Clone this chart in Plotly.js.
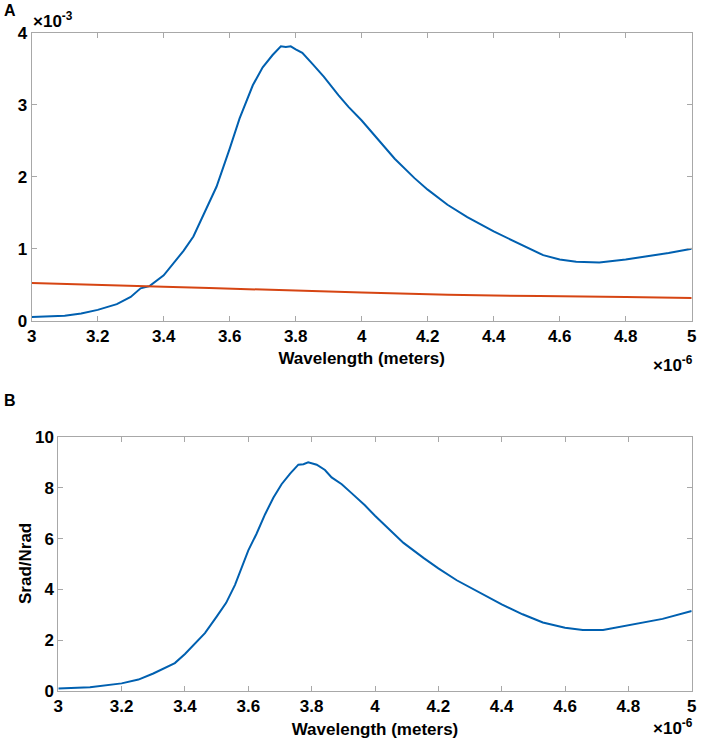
<!DOCTYPE html>
<html><head><meta charset="utf-8">
<script src="https://cdn.plot.ly/plotly-3.0.1.min.js"></script>
<style>html,body{margin:0;padding:0;background:#fff}#chart{width:701px;height:740px}</style>
</head><body><div id="chart"></div>
<script>
// Panel A: wavelength (×1e-6 m) and signal (×1e-3)
const wavelengthA = [3.0,3.05,3.1,3.15,3.2,3.258,3.3,3.33,3.357,3.4,3.43,3.46,3.49,3.53,3.56,3.6,3.63,3.67,3.70,3.73,3.755,3.77,3.785,3.80,3.82,3.85,3.885,3.93,3.96,4.0,4.05,4.10,4.16,4.2,4.26,4.32,4.4,4.49,4.55,4.6,4.65,4.72,4.8,4.87,4.93,5.0];
const sradA = [0.05,0.055,0.07,0.10,0.15,0.23,0.33,0.45,0.48,0.63,0.80,0.97,1.17,1.56,1.86,2.39,2.81,3.27,3.52,3.69,3.81,3.80,3.81,3.77,3.72,3.57,3.39,3.13,2.97,2.78,2.51,2.25,1.98,1.82,1.61,1.44,1.24,1.04,0.91,0.85,0.82,0.81,0.85,0.90,0.94,1.00];
const wavelengthNoise = [3.0,3.4,3.8,4.0,4.4,4.8,5.0];
const nradA = [0.523,0.47,0.42,0.39,0.35,0.33,0.315];
// Panel B: ratio Srad/Nrad
const wavelengthB = [3.0,3.1,3.2,3.253,3.3,3.337,3.368,3.4,3.43,3.463,3.5,3.53,3.558,3.579,3.6,3.626,3.653,3.679,3.705,3.732,3.758,3.774,3.789,3.816,3.842,3.863,3.895,3.926,3.968,4.0,4.058,4.09,4.153,4.2,4.258,4.332,4.4,4.466,4.53,4.6,4.656,4.72,4.8,4.908,5.0];
const ratioB = [0.10,0.15,0.30,0.45,0.69,0.92,1.10,1.46,1.87,2.28,2.93,3.47,4.18,4.89,5.54,6.19,6.96,7.61,8.14,8.56,8.91,8.93,9.0,8.91,8.70,8.41,8.14,7.79,7.31,6.90,6.19,5.83,5.24,4.83,4.36,3.88,3.41,3.02,2.70,2.49,2.40,2.40,2.58,2.84,3.15];

const FONT = 'Liberation Sans, Arial, Helvetica, sans-serif';
const tf = {family: FONT, size: 17, color: '#000', weight: 'bold'};
const axBase = {
  showline: true, linecolor: '#a8a8a8', linewidth: 1, mirror: 'ticks',
  ticks: 'inside', ticklen: 5, tickcolor: '#a8a8a8', tickwidth: 1,
  showgrid: false, zeroline: false, tickfont: tf, automargin: false, fixedrange: true
};

const traces = [
  {x: wavelengthA, y: sradA, xaxis: 'x', yaxis: 'y', mode: 'lines', line: {color: '#0060B0', width: 2}},
  {x: wavelengthNoise, y: nradA, xaxis: 'x', yaxis: 'y', mode: 'lines', line: {color: '#D64513', width: 2, shape: 'spline'}},
  {x: wavelengthB, y: ratioB, xaxis: 'x2', yaxis: 'y2', mode: 'lines', line: {color: '#0060B0', width: 2}}
];

const titleFont = {family: FONT, size: 17, color: '#000', weight: 'bold'};
const expFont = {family: FONT, size: 17, color: '#000', weight: 'bold'};
const panelFont = {family: FONT, size: 16, color: '#000', weight: 'bold'};
const layout = {
  width: 701, height: 740, showlegend: false,
  paper_bgcolor: '#fff', plot_bgcolor: '#fff',
  margin: {l: 0, r: 0, t: 0, b: 0},
  xaxis: Object.assign({}, axBase, {domain: [31.7/701, 691.7/701], range: [3, 5], dtick: 0.2, tick0: 3, anchor: 'y',
    title: {text: 'Wavelength (meters)', font: titleFont, standoff: 7}}),
  yaxis: Object.assign({}, axBase, {domain: [(740-320.7)/740, (740-32.7)/740], range: [0, 4], dtick: 1, anchor: 'x'}),
  xaxis2: Object.assign({}, axBase, {domain: [58.3/701, 691.7/701], range: [3, 5], dtick: 0.2, tick0: 3, anchor: 'y2',
    title: {text: 'Wavelength (meters)', font: titleFont, standoff: 7}}),
  yaxis2: Object.assign({}, axBase, {domain: [(740-691)/740, (740-437)/740], range: [0, 10], dtick: 2, anchor: 'x2'}),
  annotations: [
    {text: 'Srad/Nrad', xref: 'paper', yref: 'paper', x: 25/701, y: 1 - 564/740, xanchor: 'center', yanchor: 'middle', textangle: -90, showarrow: false, font: titleFont},
    {text: 'A', xref: 'paper', yref: 'paper', x: 2/701, y: 1 - 11/740, xanchor: 'left', yanchor: 'middle', showarrow: false, font: panelFont},
    {text: 'B', xref: 'paper', yref: 'paper', x: 2/701, y: 1 - 400/740, xanchor: 'left', yanchor: 'middle', showarrow: false, font: panelFont},
    {text: '×10<sup>-3</sup>', xref: 'paper', yref: 'paper', x: 31/701, y: 1 - 20/740, xanchor: 'left', yanchor: 'middle', showarrow: false, font: expFont},
    {text: '×10<sup>-6</sup>', xref: 'paper', yref: 'paper', x: 695/701, y: 1 - 364/740, xanchor: 'right', yanchor: 'middle', showarrow: false, font: expFont},
    {text: '×10<sup>-6</sup>', xref: 'paper', yref: 'paper', x: 695/701, y: 1 - 727/740, xanchor: 'right', yanchor: 'middle', showarrow: false, font: expFont}
  ]
};

Plotly.newPlot('chart', traces, layout, {staticPlot: true, displayModeBar: false});
</script></body></html>
